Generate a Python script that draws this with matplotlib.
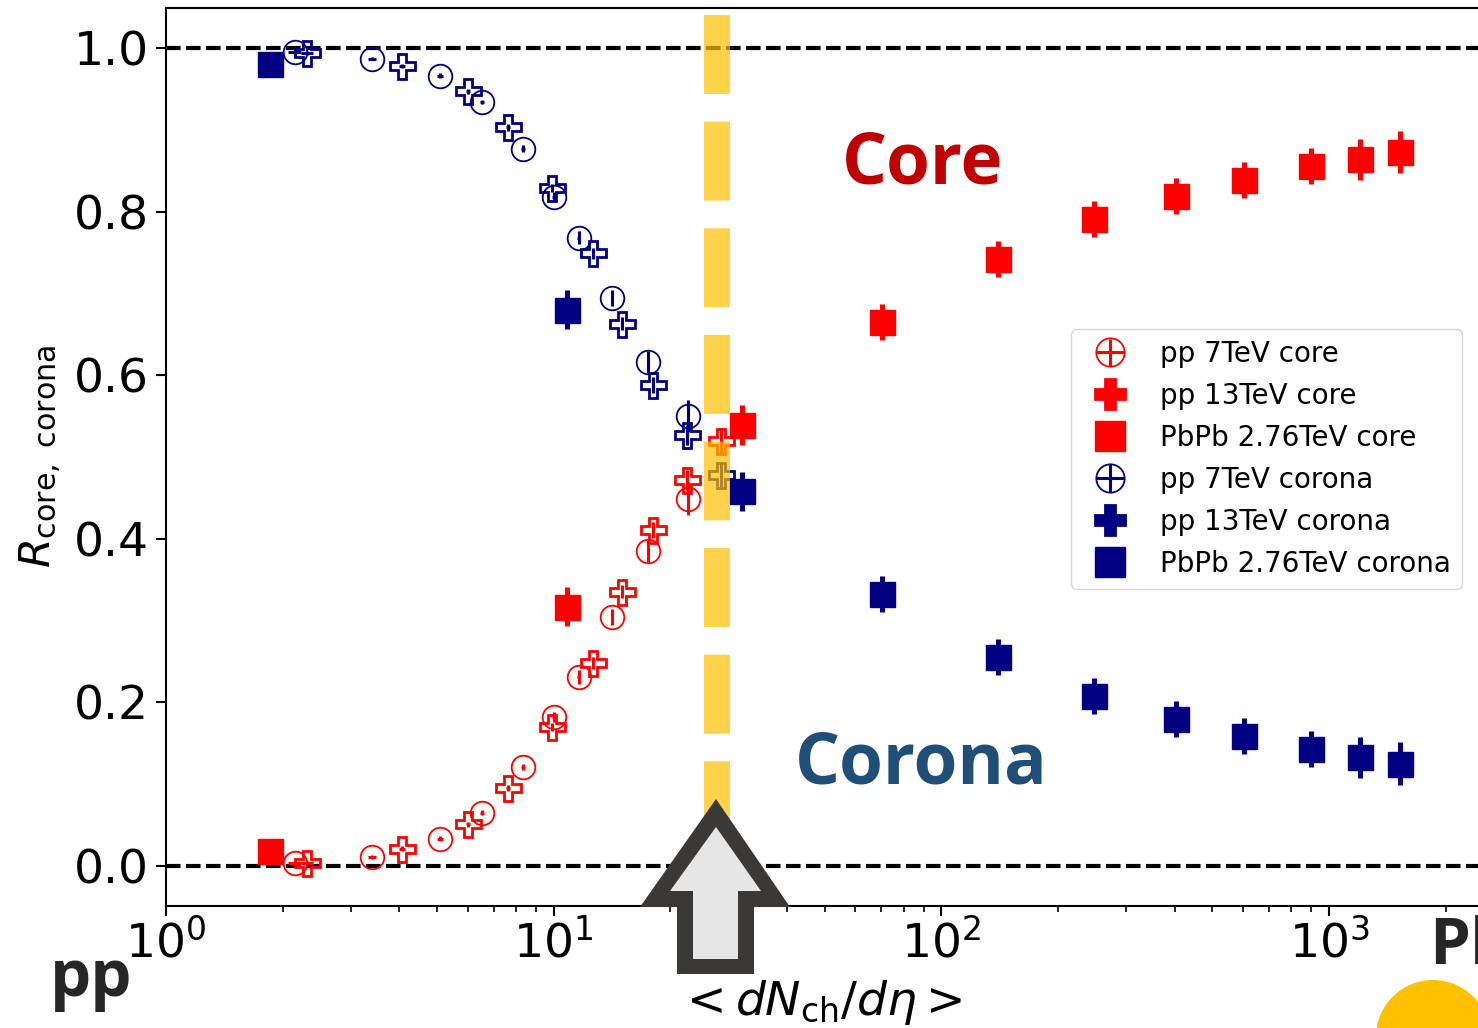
import matplotlib.pyplot as plt
import numpy as np
from matplotlib.patches import Polygon, Circle
from matplotlib.lines import Line2D

# ---- data ----
pp7_x = [2.15, 3.40, 5.09, 6.53, 8.33, 10.0, 11.6, 14.1, 17.5, 22.2]
pp7_core = [0.004, 0.011, 0.033, 0.065, 0.121, 0.182, 0.231, 0.304, 0.385, 0.449]
pp7_corona = [0.995, 0.987, 0.966, 0.934, 0.877, 0.818, 0.768, 0.694, 0.616, 0.550]
pp7_err = [0.002, 0.002, 0.003, 0.003, 0.004, 0.006, 0.008, 0.010, 0.013, 0.020]

pp13_x = [2.31, 4.06, 6.01, 7.62, 9.90, 12.6, 15.0, 18.0, 22.1, 27.0]
pp13_core = [0.004, 0.021, 0.051, 0.095, 0.170, 0.248, 0.335, 0.411, 0.472, 0.520]
pp13_corona = [0.994, 0.978, 0.947, 0.903, 0.829, 0.749, 0.663, 0.588, 0.527, 0.478]
pp13_err = [0.002, 0.003, 0.003, 0.004, 0.005, 0.007, 0.008, 0.010, 0.012, 0.015]

pbpb_x = [1.85, 10.8, 30.6, 70.3, 140, 248, 403, 603, 898, 1202, 1524]
pbpb_core = [0.018, 0.317, 0.539, 0.665, 0.742, 0.791, 0.819, 0.839, 0.856, 0.864, 0.873]
pbpb_corona = [0.980, 0.680, 0.458, 0.333, 0.256, 0.208, 0.180, 0.159, 0.143, 0.133, 0.125]
pbpb_err = [0.010, 0.024, 0.024, 0.022, 0.022, 0.022, 0.022, 0.022, 0.022, 0.025, 0.026]

XERR = 0.08          # tiny horizontal error
DNDETA_MARK = 26.4   # yellow dashed marker position

fig = plt.figure(figsize=(14.78, 10.28), dpi=100)
ax = fig.add_axes([0.1123, 0.1187, 0.8917, 0.874])

ax.axhline(1.0, color='black', lw=3, dashes=(3.5, 1.3), zorder=1)
ax.axhline(0.0, color='black', lw=3, dashes=(3.5, 1.3), zorder=1)

common = dict(xerr=XERR, capsize=0, linestyle='none')
ax.errorbar(pp7_x, pp7_core, yerr=pp7_err, fmt='o', color='red', mfc='none',
            ms=17, mew=1.3, elinewidth=2.2, label='pp 7TeV core', **common)
ax.errorbar(pp13_x, pp13_core, yerr=pp13_err, fmt='P', color='red', mfc='none',
            ms=18, mew=2.0, elinewidth=2.2, label='pp 13TeV core', **common)
ax.errorbar(pbpb_x, pbpb_core, yerr=pbpb_err, fmt='s', color='red',
            ms=18, mew=1, elinewidth=3.6, label='PbPb 2.76TeV core', **common)
ax.errorbar(pp7_x, pp7_corona, yerr=pp7_err, fmt='o', color='navy', mfc='none',
            ms=17, mew=1.3, elinewidth=2.2, label='pp 7TeV corona', **common)
ax.errorbar(pp13_x, pp13_corona, yerr=pp13_err, fmt='P', color='navy', mfc='none',
            ms=18, mew=2.0, elinewidth=2.2, label='pp 13TeV corona', **common)
ax.errorbar(pbpb_x, pbpb_corona, yerr=pbpb_err, fmt='s', color='navy',
            ms=18, mew=1, elinewidth=3.6, label='PbPb 2.76TeV corona', **common)

# yellow dashed vertical marker
ax.plot([DNDETA_MARK, DNDETA_MARK], [0.992, 0.072], transform=ax.get_xaxis_transform(),
        color='#FFC000', alpha=0.7, lw=18.7, dashes=(3.04, 1.065),
        solid_capstyle='butt', dash_capstyle='butt', zorder=4)

ax.set_xscale('log')
ax.set_xlim(1, 10 ** 3.3995)
ax.set_ylim(-0.049, 1.0495)
ax.set_yticks([0.0, 0.2, 0.4, 0.6, 0.8, 1.0])
ax.tick_params(axis='both', which='major', labelsize=34, length=7, width=1.5, pad=5)
ax.tick_params(axis='x', which='major', pad=3)
ax.tick_params(axis='x', which='minor', length=4, width=1.2)
for s in ax.spines.values():
    s.set_linewidth(1.5)

ax.set_ylabel(r'$R_{\rm core,\ corona}$', fontsize=31)
ax.yaxis.set_label_coords(-0.077, 0.5)
ax.set_xlabel(r'$<dN_{\rm ch}/d\eta>$', fontsize=34, va='top')
ax.xaxis.set_label_coords(0.496, -0.080)

leg = ax.legend(loc='upper left', bbox_to_anchor=(1071 / 1478, 1 - 329 / 1028),
                bbox_transform=fig.transFigure, borderaxespad=0, fontsize=20,
                labelspacing=0.5, markerscale=1.2)
# the plus markers look solid in the legend
for h in leg.findobj(match=lambda a: isinstance(a, Line2D) and a.get_marker() == 'P'):
    h.set_markerfacecolor(h.get_markeredgecolor())

# slide annotations
fig.text(842 / 1478, 1 - 183 / 1028, 'Core', color='#C00000', fontsize=51,
         fontweight='bold', family='Open Sans', va='baseline', ha='left')
fig.text(795 / 1478, 1 - 783 / 1028, 'Corona', color='#1F4E79', fontsize=51,
         fontweight='bold', family='Open Sans', va='baseline', ha='left')
fig.text(50 / 1478, 1 - 996 / 1028, 'pp', color='#262626', fontsize=47,
         fontweight='bold', family='Open Sans', va='baseline', ha='left')
fig.text(1429 / 1478, 1 - 963 / 1028, 'PbPb', color='#262626', fontsize=47,
         fontweight='bold', family='Open Sans', va='baseline', ha='left')


def inch(pts):
    return [(px / 100, (1028 - py) / 100) for px, py in pts]


outer = [(716, 799), (790, 907), (754, 907), (754, 974), (677, 974), (677, 907), (640, 907)]
inner = [(716, 827), (761, 891), (738, 891), (738, 959), (693, 959), (693, 891), (670, 891)]
fig.patches.append(Polygon(inch(outer), closed=True, facecolor='#3B3838', edgecolor='none',
                           transform=fig.dpi_scale_trans, figure=fig, zorder=5))
fig.patches.append(Polygon(inch(inner), closed=True, facecolor='#E7E6E6', edgecolor='none',
                           transform=fig.dpi_scale_trans, figure=fig, zorder=6))
fig.patches.append(Circle((14.33, (1028 - 1037) / 100), 0.57, facecolor='#FFC000',
                          edgecolor='none', transform=fig.dpi_scale_trans, figure=fig, zorder=5))

fig.savefig('out.png', dpi=100)
